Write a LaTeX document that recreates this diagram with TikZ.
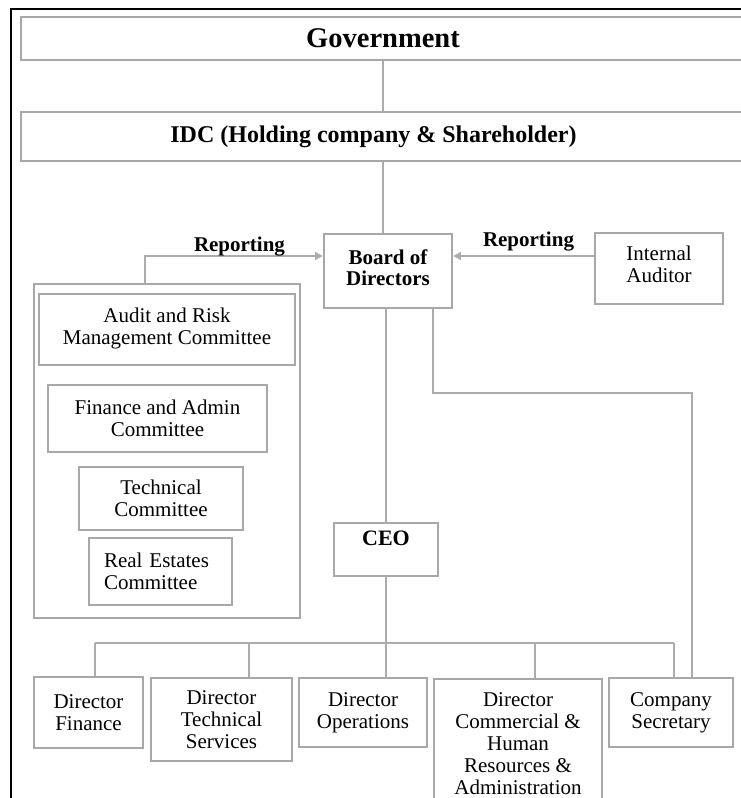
\documentclass[tikz,border=0pt]{standalone}
\usepackage{fontspec}
\setmainfont{Liberation Serif}
\usetikzlibrary{arrows.meta}
\definecolor{boxgray}{RGB}{168,168,168}
\definecolor{linegray}{RGB}{172,172,172}
\newcommand\regfont{\fontsize{21}{22}\selectfont}
\newcommand\bfsmall{\fontsize{21}{21.5}\selectfont\bfseries}
\tikzset{
  box/.style={draw=boxgray, line width=2.4pt, inner sep=0pt, font=\regfont},
  mbox/.style={box, align=center},
  conn/.style={draw=linegray, line width=2pt},
  rep/.style={conn, -{Triangle[length=8pt,width=8pt]}},
  lbl/.style={inner sep=0pt, font=\bfsmall}
}
\begin{document}
\begin{tikzpicture}[x=1pt,y=-1pt]
\clip (0,0) rectangle (741,798);
\fill[white] (0,0) rectangle (741,798);
% frame
\draw[black, line width=1.6pt] (11,800) -- (11,9) -- (745,9);
% top boxes
\node[box, minimum width=724, minimum height=43, font=\fontsize{28.5}{29}\selectfont\bfseries] (gov) at (383,38.5) {Government};
\node[box, minimum width=724, minimum height=49, font=\fontsize{24}{25}\selectfont\bfseries] (idc) at (383,136.5) {IDC (Holding company \& Shareholder)\hspace*{19pt}};
\node[mbox, minimum width=128, minimum height=74, font=\bfsmall] (board) at (388,271) {Board of\\Directors\\[-14.5pt]\mbox{}};
\node[mbox, minimum width=128, minimum height=71] (aud) at (659,268.5) {Internal\\Auditor\\[-13pt]\mbox{}};
% committees
\node[draw=boxgray, line width=2pt, minimum width=266, minimum height=334, inner sep=0pt] (comm) at (167,451) {};
\node[mbox, minimum width=256, minimum height=71] (arm) at (167,329.5) {Audit and Risk\\Management Committee\\[-15pt]\mbox{}};
\node[mbox, minimum width=219, minimum height=67] (fac) at (157.5,418.5) {Finance and Admin\\Committee};
\node[mbox, minimum width=164, minimum height=63] (tc) at (161,498.5) {Technical\\Committee};
\node[box, minimum width=143, minimum height=67, text width=113pt, inner xsep=15pt, align=left] (rec) at (160.5,571.5) {Real Estates\\Committee};
% CEO
\node[mbox, minimum width=104, minimum height=53, font=\fontsize{22}{22}\selectfont\bfseries] (ceo) at (386,549.5) {CEO\\[0pt]\mbox{}};
% directors
\node[mbox, minimum width=109, minimum height=71] (fin) at (88.5,712.5) {Director\\Finance};
\node[mbox, minimum width=141, minimum height=83] (dts) at (221.5,719.5) {Director\\Technical\\Services};
\node[mbox, minimum width=128, minimum height=69] (ops) at (363,712.5) {Director\\Operations};
\node[mbox, minimum width=168, minimum height=130] (dch) at (518,744) {Director\\Commercial \&\\Human\\Resources \&\\Administration};
\node[mbox, minimum width=124, minimum height=69] (cs) at (671,712.5) {Company\\Secretary};
% coordinates
\coordinate (ra) at (595,256);
\coordinate (la) at (145,256);
\coordinate (bs) at (433,308);
\coordinate (tap) at (692,393);
\coordinate (d1) at (95,643);
\coordinate (d2) at (249,643);
\coordinate (d3) at (386,643);
\coordinate (d4) at (535,643);
\coordinate (d5) at (674,643);
% connectors
\draw[conn] (gov.south) -- (idc.north);
\draw[conn] (idc.south) -- (idc.south |- board.north);
\draw[rep] (aud.west |- ra) -- (board.east |- ra);
\draw[rep] (comm.north -| la) |- (board.west |- la);
\draw[conn] (board.south -| ceo.north) -- (ceo.north);
\draw[conn] (board.south -| bs) |- (tap) -- (tap |- cs.north);
\draw[conn] (ceo.south) -- (ceo.south |- d3);
\draw[conn] (d1) -- (d5);
\draw[conn] (d1) -- (d1 |- fin.north);
\draw[conn] (d2) -- (d2 |- dts.north);
\draw[conn] (d3) -- (d3 |- ops.north);
\draw[conn] (d4) -- (d4 |- dch.north);
\draw[conn] (d5) -- (d5 |- cs.north);
% labels
\node[lbl] (rep1) at (239.5,247) {Reporting};
\node[lbl] (rep2) at (528.5,242) {Reporting};
\end{tikzpicture}
\end{document}
